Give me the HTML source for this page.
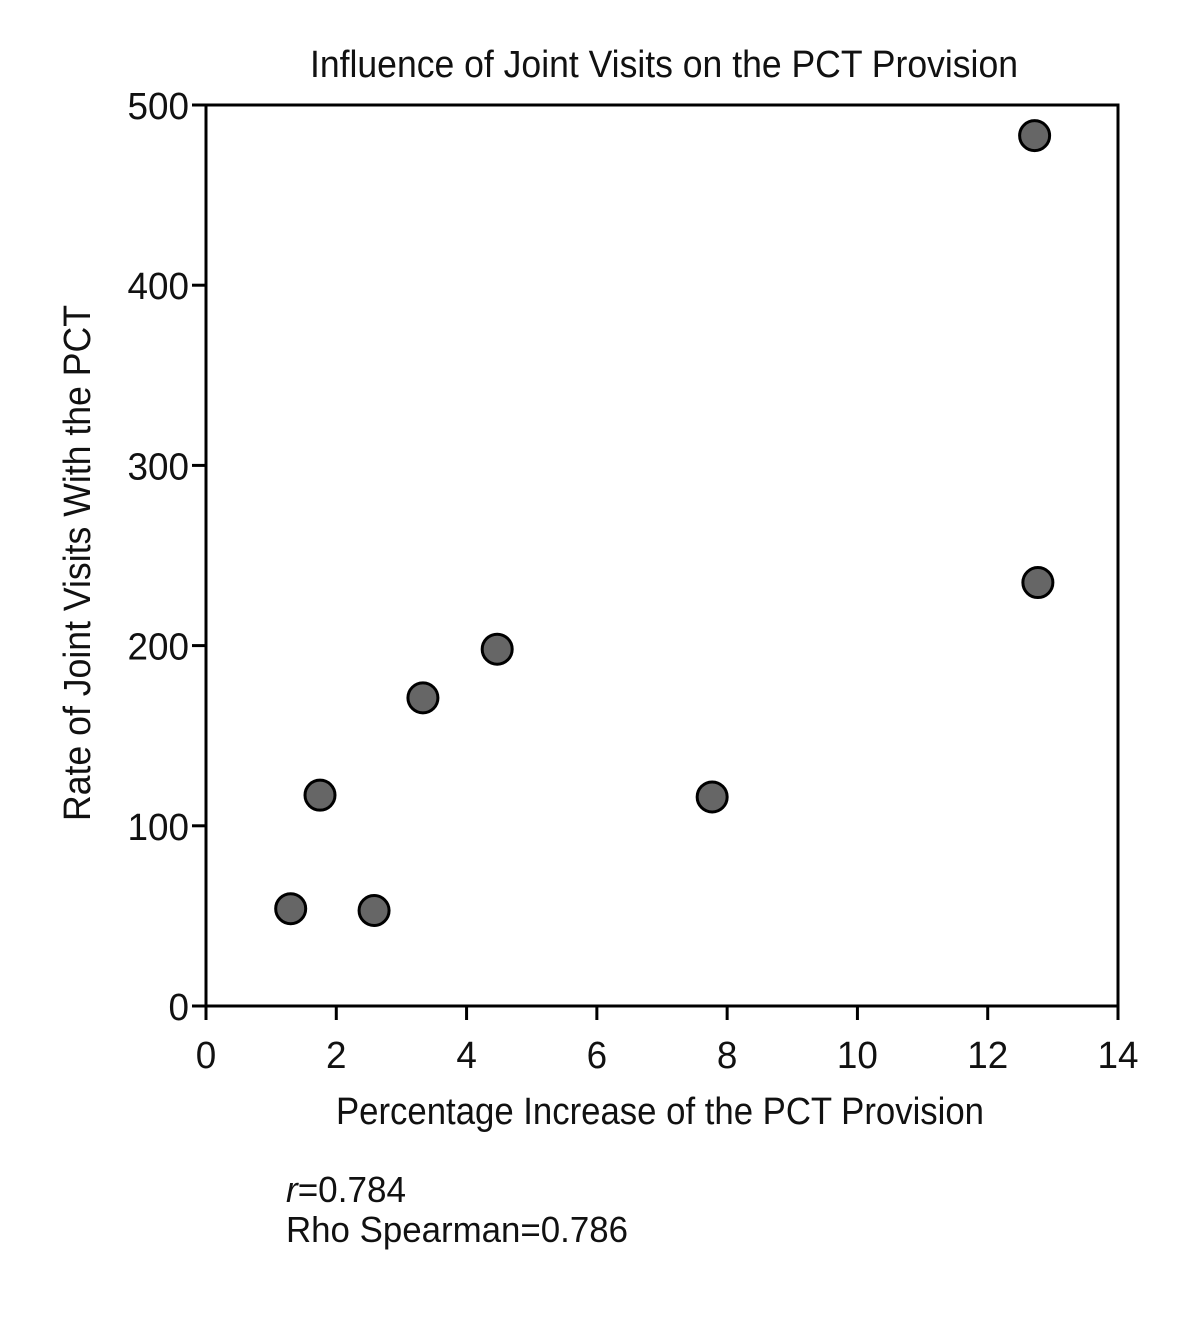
<!DOCTYPE html>
<html><head><meta charset="utf-8"><style>
html,body{margin:0;padding:0;background:#fff;}
svg text{font-family:"Liberation Sans Narrow","Liberation Sans",sans-serif;fill:#111;}
</style></head><body>
<svg id="chart" width="1194" height="1312" viewBox="0 0 1194 1312" xmlns="http://www.w3.org/2000/svg">
<text x="664" y="77" font-size="38" text-anchor="middle" textLength="708" lengthAdjust="spacingAndGlyphs">Influence of Joint Visits on the PCT Provision</text>
<rect x="206" y="105" width="912" height="901" fill="none" stroke="#000" stroke-width="3"/>
<g id="xticks"></g>
<g id="yticks"></g>
<g id="points"></g>
<text x="660" y="1124" font-size="38" text-anchor="middle" textLength="648" lengthAdjust="spacingAndGlyphs">Percentage Increase of the PCT Provision</text>
<text transform="translate(90,563) rotate(-90)" x="0" y="0" font-size="38" text-anchor="middle" textLength="516" lengthAdjust="spacingAndGlyphs">Rate of Joint Visits With the PCT</text>
<text x="286" y="1202" font-size="36" textLength="120" lengthAdjust="spacingAndGlyphs"><tspan font-style="italic">r</tspan>=0.784</text>
<text x="286" y="1242" font-size="36" textLength="342" lengthAdjust="spacingAndGlyphs">Rho Spearman=0.786</text>
</svg>
<script>
const xTicks=[0,2,4,6,8,10,12,14];
const yTicks=[0,100,200,300,400,500];
const xValues=[1.3,1.75,2.58,3.33,4.47,7.77,12.72,12.77];
const yValues=[54,117,53,171,198,116,483,235];
const NS="http://www.w3.org/2000/svg";
const X=v=>206+v*(912/14);
const Y=v=>1006-v*(901/500);
function mk(t,a,p){const e=document.createElementNS(NS,t);for(const k in a)e.setAttribute(k,a[k]);p.appendChild(e);return e;}
const gx=document.getElementById('xticks'),gy=document.getElementById('yticks'),gp=document.getElementById('points');
xTicks.forEach(v=>{
const l=mk('line',{x1:X(v),x2:X(v),y1:1006,y2:1020,stroke:'#000','stroke-width':3},gx);


const s=String(v);
const t=mk('text',{x:X(v),y:1068,'font-size':38,'text-anchor':'middle',textLength:s.length*20.5,lengthAdjust:'spacingAndGlyphs'},gx);


t.textContent=s;});
yTicks.forEach(v=>{
const l=mk('line',{x1:192,x2:206,y1:Y(v),y2:Y(v),stroke:'#000','stroke-width':3},gy);


const s=String(v);
const t=mk('text',{x:189-s.length*20.5,y:Y(v)+14,'font-size':38,textLength:s.length*20.5,lengthAdjust:'spacingAndGlyphs'},gy);


t.textContent=s;});
xValues.forEach((v,i)=>{
const c=mk('circle',{cx:X(v),cy:Y(yValues[i]),r:15,fill:'#666',stroke:'#000','stroke-width':3},gp);

});
</script>
</body></html>
